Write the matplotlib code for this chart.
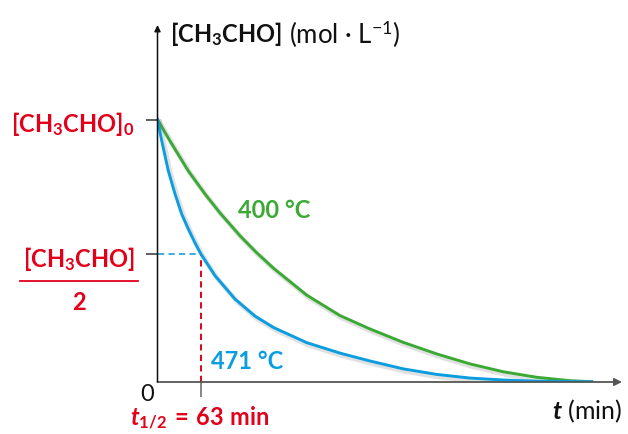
import matplotlib
matplotlib.use("Agg")
import matplotlib.pyplot as plt
import matplotlib.patheffects as pe

FONT = "Lato"
plt.rcParams.update({
    "font.family": [FONT, "DejaVu Sans"],
    "mathtext.fontset": "custom",
    "mathtext.rm": FONT,
    "mathtext.it": FONT + ":italic",
    "mathtext.bf": FONT + ":bold",
    "mathtext.bfit": FONT + ":italic:bold",
})

# ---- data (time in min, concentration relative to [CH3CHO]0) ----
t_471 = [0, 6.1, 15.6, 25.3, 35.0, 44.6, 54.3, 63, 83.3, 112.2, 141.2, 167.7, 216.0, 264.3,
         307.7, 355.9, 404.3, 452.5, 500.7, 549.1, 628.7]
c_471 = [1.0, 0.919, 0.805, 0.717, 0.640, 0.583, 0.530, 0.487, 0.405, 0.316, 0.251, 0.208,
         0.150, 0.110, 0.080, 0.050, 0.029, 0.015, 0.0076, 0.003, 0.001]
t_400 = [0, 18.1, 44.6, 68.8, 90.5, 119.5, 142.6, 167.7, 216.0, 264.3, 307.7, 355.9, 404.3,
         452.5, 500.7, 549.1, 597.3, 628.7]
c_400 = [1.0, 0.918, 0.804, 0.716, 0.644, 0.557, 0.495, 0.434, 0.331, 0.253, 0.202, 0.151,
         0.107, 0.069, 0.039, 0.018, 0.005, 0.001]
t_half = 63
c_half = 0.487
c_0 = 1.0

RED = "#e2001a"
GREEN = "#3aaa35"
BLUE = "#0a9de0"
DBLUE = "#3aaee6"

W, H = 628, 435
fig = plt.figure(figsize=(W / 100, H / 100), dpi=100)
ax = fig.add_axes([157.5 / W, (H - 383) / H, (622 - 157.5) / W, (383 - 26) / H])
ax.set_xlim(0, 672.6)
ax.set_ylim(0, 1.36)
for s in ax.spines.values():
    s.set_visible(False)

shadow = [pe.SimpleLineShadow(offset=(1.5, -1.8), shadow_color="#777777", alpha=0.22, linewidth=3.6),
          pe.Normal()]
ax.plot(t_400, c_400, color=GREEN, lw=2.1, solid_joinstyle="round", path_effects=shadow, zorder=3)
ax.plot(t_471, c_471, color=BLUE, lw=2.1, solid_joinstyle="round", path_effects=shadow, zorder=3)

ax.plot([0, t_half], [c_half, c_half], ls=(0, (3.2, 2.2)), color=DBLUE, lw=1.4, zorder=2)
ax.plot([t_half, t_half], [0, c_half], ls=(0, (3.2, 2.2)), color=RED, lw=1.4, zorder=2)

# axes with arrows
ax.annotate("", xy=(1, 0), xytext=(0, 0), xycoords="axes fraction",
            arrowprops=dict(arrowstyle="-|>", lw=1.3, color="#555555", mutation_scale=11,
                            shrinkA=0, shrinkB=0))
ax.annotate("", xy=(0, 1), xytext=(0, 0), xycoords="axes fraction",
            arrowprops=dict(arrowstyle="-|>", lw=1.1, color="#111111", mutation_scale=9,
                            shrinkA=0, shrinkB=0))

ax.set_yticks([c_0, c_half])
ax.set_yticklabels(["", ""])
ax.set_xticks([t_half])
ax.set_xticklabels([""])
ax.tick_params(axis="y", direction="out", length=9, width=1.1, color="#333333")
ax.tick_params(axis="x", direction="out", length=11, width=1.1, color="#666666")


def P(x, y):
    return (x / W, 1 - y / H)


ft = fig.transFigure
FS = 17
fig.text(*P(170, 34), r"$\mathbf{[CH_3CHO]}$", transform=ft,
         fontsize=FS, ha="left", va="center", color="#111111")
fig.text(*P(289, 34), r"(mol · L$^{-1}$)", transform=ft,
         fontsize=18.5, ha="left", va="center", color="#111111")
fig.text(*P(73, 124), r"$\mathbf{[CH_3CHO]_0}$", transform=ft,
         fontsize=FS, ha="center", va="center", color=RED)
fig.text(*P(79, 259), r"$\mathbf{[CH_3CHO]}$", transform=ft,
         fontsize=FS, ha="center", va="center", color=RED)
fig.add_artist(plt.Line2D([20 / W, 138 / W], [1 - 282 / H, 1 - 282 / H], color=RED, lw=1.3))
fig.text(*P(79, 302), "2", transform=ft, fontsize=FS, fontweight="bold",
         ha="center", va="center", color=RED)
fig.text(*P(147, 395), "0", transform=ft, fontsize=FS, ha="center", va="center", color="#111111")
fig.text(*P(200, 418), r"$\mathbfit{t}_{\mathbf{1/2}}\mathbf{\:=\:63\ min}$", transform=ft,
         fontsize=FS, ha="center", va="center", color=RED)
fig.text(*P(587, 411), r"$\mathbfit{t}$ (min)", transform=ft,
         fontsize=18, ha="center", va="center", color="#111111")
fig.text(*P(274, 210), "400 °C", transform=ft, fontsize=FS, fontweight="bold",
         ha="center", va="center", color=GREEN)
fig.text(*P(247, 362), "471 °C", transform=ft, fontsize=FS, fontweight="bold",
         ha="center", va="center", color=BLUE)

fig.savefig("out.png", dpi=100)
